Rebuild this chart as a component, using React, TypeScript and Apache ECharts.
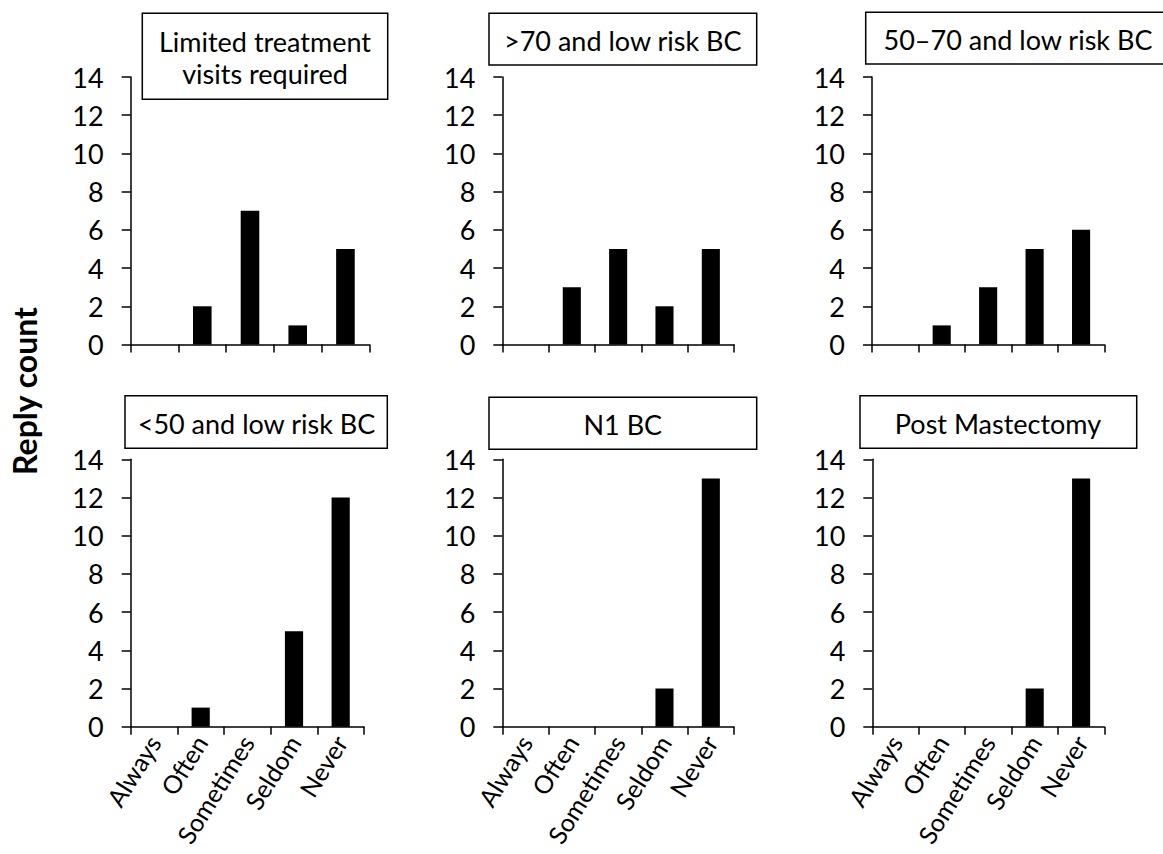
import React, { useEffect, useRef } from "react";
import * as echarts from "echarts";

const categories = ["Always", "Often", "Sometimes", "Seldom", "Never"];
const panelTitles = [
  "Limited treatment\nvisits required",
  ">70 and low risk BC",
  "50–70 and low risk BC",
  "<50 and low risk BC",
  "N1 BC",
  "Post Mastectomy",
];
const limitedVisits = [0, 2, 7, 1, 5];
const over70Low = [0, 3, 5, 2, 5];
const age50to70Low = [0, 1, 3, 5, 6];
const under50Low = [0, 1, 0, 5, 12];
const n1BC = [0, 0, 0, 2, 13];
const postMastectomy = [0, 0, 0, 2, 13];
const yAxisTitle = "Reply count";
const yMin = 0;
const yMax = 14;
const yStep = 2;

const seriesData = [limitedVisits, over70Low, age50to70Low, under50Low, n1BC, postMastectomy];

// layout (pixels)
const grids = [
  { left: 130.7, top: 77, width: 238.6, height: 267.5 },
  { left: 502.3, top: 77, width: 231.7, height: 267.5 },
  { left: 872, top: 77, width: 232.3, height: 267.5 },
  { left: 130.7, top: 459.3, width: 233.3, height: 267.4 },
  { left: 502.3, top: 459.3, width: 231.7, height: 267.4 },
  { left: 872.3, top: 459.3, width: 232, height: 267.4 },
];
const boxes = [
  { x: 142.3, y: 13.3, w: 245.4, h: 86, cx: 265, cy: 57 },
  { x: 489, y: 13.3, w: 267.7, h: 51.7, cx: 622.8, cy: 40 },
  { x: 865.7, y: 12.3, w: 310, h: 51.7, cx: 1018, cy: 39 },
  { x: 125, y: 395.7, w: 262.3, h: 52.6, cx: 256.5, cy: 423 },
  { x: 489, y: 397.3, w: 267.7, h: 52, cx: 622.8, cy: 424 },
  { x: 860, y: 395.7, w: 276.7, h: 52.6, cx: 998, cy: 423 },
];

const FONT = "Lato, 'Open Sans', sans-serif";

export default function App() {
  const ref = useRef<HTMLDivElement>(null);
  useEffect(() => {
    document.body.style.margin = "0";
    document.body.style.overflow = "hidden";
    if (!ref.current) return;
    const chart = echarts.init(ref.current, undefined, { renderer: "svg" });
    const option: any = {
      animation: false,
      backgroundColor: "#fff",
      grid: grids.map((g) => ({ ...g, containLabel: false, outerBoundsMode: "none" })),
      xAxis: grids.map((_, i) => ({
        type: "category",
        gridIndex: i,
        data: categories,
        boundaryGap: true,
        axisLine: { show: true, lineStyle: { color: "#000", width: 1.5 } },
        axisTick: { show: true, length: 8, alignWithLabel: false, interval: 0, lineStyle: { color: "#000", width: 1.5 } },
        axisLabel: {
          show: i >= 3,
          interval: 0,
          rotate: 58,
          margin: 11,
          color: "#000",
          fontFamily: FONT,
          fontSize: 25,
        },
        splitLine: { show: false },
      })),
      yAxis: grids.map((_, i) => ({
        type: "value",
        gridIndex: i,
        min: yMin,
        max: yMax,
        interval: yStep,
        axisLine: { show: true, lineStyle: { color: "#000", width: 1.5 } },
        axisTick: { show: true, length: 9, lineStyle: { color: "#000", width: 1.5 } },
        axisLabel: { color: "#000", fontFamily: FONT, fontSize: 27, margin: 27 },
        splitLine: { show: false },
      })),
      series: seriesData.map((d, i) => ({
        type: "bar",
        xAxisIndex: i,
        yAxisIndex: i,
        data: d,
        barWidth: "39%",
        itemStyle: { color: "#000" },
      })),
      graphic: [
        ...boxes.map((b, i) => ({
          type: "group",
          children: [
            {
              type: "rect",
              shape: { x: b.x, y: b.y, width: b.w, height: b.h },
              style: { fill: "#fff", stroke: "#000", lineWidth: 1.5 },
            },
            {
              type: "text",
              x: b.cx,
              y: b.cy,
              style: {
                text: panelTitles[i],
                align: "center",
                verticalAlign: "middle",
                fontFamily: FONT,
                fontSize: 27,
                lineHeight: 32,
                fill: "#000",
              },
            },
          ],
        })),
        {
          type: "text",
          x: 24,
          y: 391,
          rotation: Math.PI / 2,
          style: {
            text: yAxisTitle,
            align: "center",
            verticalAlign: "middle",
            fontFamily: FONT,
            fontWeight: "bold",
            fontSize: 32,
            fill: "#000",
          },
        },
      ],
    };
    chart.setOption(option);
    return () => chart.dispose();
  }, []);
  return <div ref={ref} style={{ width: 1163, height: 854, overflow: "hidden" }} />;
}
